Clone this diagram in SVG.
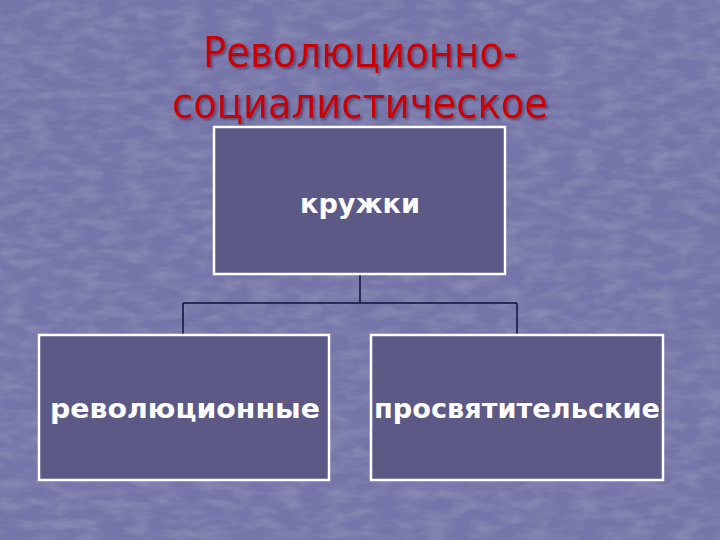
<svg xmlns="http://www.w3.org/2000/svg" width="720" height="540" viewBox="0 0 720 540">
<defs>
<style>
.box{fill:#5d5986;stroke:#ffffff;stroke-width:2.5}
.lbl{font-family:"DejaVu Sans","Verdana",sans-serif;font-weight:bold;font-size:26px;fill:#ffffff;text-anchor:middle}
.title{font-family:"DejaVu Sans","Tahoma",sans-serif;font-size:43px;fill:#c80000;text-anchor:middle}
.conn{fill:none;stroke:#2b2a55;stroke-width:2}
</style>
<filter id="tex" x="0" y="0" width="100%" height="100%">
<feTurbulence type="fractalNoise" baseFrequency="0.04 0.1" numOctaves="3" seed="4" result="n"/>
<feColorMatrix in="n" type="matrix" values="0 0 0 0 1  0 0 0 0 1  0 0 0 0 1  0 0 0 0.18 -0.07" result="w"/>
<feComposite in="w" in2="SourceGraphic" operator="over"/>
</filter>
<filter id="sh" x="-5%" y="-20%" width="110%" height="140%">
<feDropShadow dx="2" dy="2" stdDeviation="1" flood-color="#3a3560" flood-opacity="0.6"/>
</filter>
</defs>
<rect width="720" height="540" fill="#7575a9" filter="url(#tex)"/>
<g id="title" filter="url(#sh)">
<text class="title" x="360" y="67" textLength="314" lengthAdjust="spacingAndGlyphs">Революционно-</text>
<text class="title" x="360" y="118" textLength="376" lengthAdjust="spacingAndGlyphs">социалистическое</text>
</g>
<g id="connectors">
<path class="conn" d="M360 274V303M183 303H517M183 303V335M517 303V335"/>
</g>
<g id="node-kruzhki">
<rect class="box" x="214" y="127" width="291" height="147"/>
<text class="lbl" x="360" y="213" textLength="120" lengthAdjust="spacingAndGlyphs">кружки</text>
</g>
<g id="node-revolutsionnye">
<rect class="box" x="39" y="335" width="290" height="145"/>
<text class="lbl" x="185" y="418" textLength="270" lengthAdjust="spacingAndGlyphs">революционные</text>
</g>
<g id="node-prosvyatitelskie">
<rect class="box" x="371" y="335" width="292" height="145"/>
<text class="lbl" x="517" y="418" textLength="286" lengthAdjust="spacingAndGlyphs">просвятительские</text>
</g>
</svg>
